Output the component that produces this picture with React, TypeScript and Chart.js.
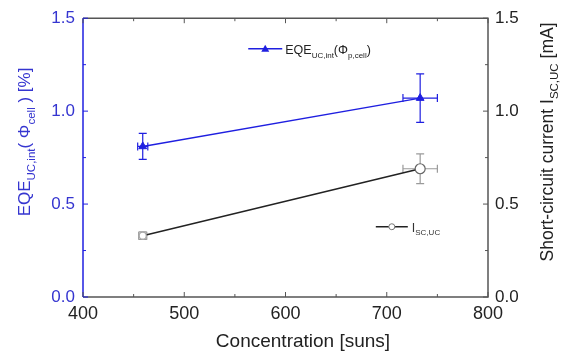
import React, { useEffect, useRef } from 'react';
import { Chart, registerables } from 'chart.js';
Chart.register(...registerables);

// ---- data ----
const concentration = [459, 733];
const eqeXErr = [5, 17];
const eqeValues = [0.81, 1.07];
const eqeYErr = [0.07, 0.13];
const iscValues = [0.33, 0.69];
const iscYErr = [0.02, 0.08];
const iscXErr = [4, 17];
const xMin = 400;
const xMax = 800;
const xStep = 100;
const yMin = 0;
const yMax = 1.5;
const yStep = 0.5;

const BLUE = '#1f1fe0';
const BLUE_TXT = '#3535d0';
const FRAME = '#555555';
const FONT = '"Liberation Sans", Arial, sans-serif';

type Part = { t: string; sub?: boolean };

function richWidth(ctx: CanvasRenderingContext2D, parts: Part[], size: number, subSize: number) {
  let w = 0;
  for (const p of parts) {
    ctx.font = `${p.sub ? subSize : size}px ${FONT}`;
    w += ctx.measureText(p.t).width;
  }
  return w;
}

function drawRich(ctx: CanvasRenderingContext2D, parts: Part[], x: number, y: number, size: number, subSize: number, color: string) {
  let cx = x;
  ctx.fillStyle = color;
  ctx.textBaseline = 'alphabetic';
  ctx.textAlign = 'left';
  for (const p of parts) {
    ctx.font = `${p.sub ? subSize : size}px ${FONT}`;
    ctx.fillText(p.t, cx, p.sub ? y + size * 0.3 : y);
    cx += ctx.measureText(p.t).width;
  }
}

const decorPlugin = {
  id: 'decor',
  beforeDatasetsDraw(chart: any) {
    const ctx: CanvasRenderingContext2D = chart.ctx;
    const xs = chart.scales.x;
    const sets = [
      { scale: chart.scales.y, ys: eqeValues, yErr: eqeYErr, xErr: eqeXErr, color: BLUE },
      { scale: chart.scales.y2, ys: iscValues, yErr: iscYErr, xErr: iscXErr, color: '#9a9a9a' },
    ];
    ctx.save();
    ctx.lineWidth = 1.2;
    for (const s of sets) {
      ctx.strokeStyle = s.color;
      for (let i = 0; i < concentration.length; i++) {
        const px = xs.getPixelForValue(concentration[i]);
        const py = s.scale.getPixelForValue(s.ys[i]);
        const yt = s.scale.getPixelForValue(s.ys[i] + s.yErr[i]);
        const yb = s.scale.getPixelForValue(s.ys[i] - s.yErr[i]);
        const xl = xs.getPixelForValue(concentration[i] - s.xErr[i]);
        const xr = xs.getPixelForValue(concentration[i] + s.xErr[i]);
        const cap = 4;
        ctx.beginPath();
        ctx.moveTo(px, yt); ctx.lineTo(px, yb);
        ctx.moveTo(px - cap, yt); ctx.lineTo(px + cap, yt);
        ctx.moveTo(px - cap, yb); ctx.lineTo(px + cap, yb);
        ctx.moveTo(xl, py); ctx.lineTo(xr, py);
        ctx.moveTo(xl, py - cap); ctx.lineTo(xl, py + cap);
        ctx.moveTo(xr, py - cap); ctx.lineTo(xr, py + cap);
        ctx.stroke();
      }
    }
    ctx.restore();
  },
  afterDatasetsDraw(chart: any) {
    const ctx: CanvasRenderingContext2D = chart.ctx;
    const { left, right, top, bottom } = chart.chartArea;
    const xs = chart.scales.x;
    const ys = chart.scales.y;
    ctx.save();
    // frame
    ctx.lineWidth = 1.5;
    ctx.strokeStyle = FRAME;
    ctx.beginPath();
    ctx.moveTo(left, top); ctx.lineTo(right, top); ctx.lineTo(right, bottom); ctx.lineTo(left, bottom);
    ctx.stroke();
    ctx.strokeStyle = BLUE;
    ctx.beginPath();
    ctx.moveTo(left, top); ctx.lineTo(left, bottom);
    ctx.stroke();
    // tick marks (inward), major + minor
    ctx.lineWidth = 1;
    for (let v = xMin; v <= xMax + 1e-9; v += xStep / 2) {
      const p = xs.getPixelForValue(v);
      const major = Math.abs((v - xMin) % xStep) < 1e-6;
      const len = major ? 5 : 3;
      ctx.strokeStyle = FRAME;
      ctx.beginPath();
      ctx.moveTo(p, bottom); ctx.lineTo(p, bottom - len);
      ctx.moveTo(p, top); ctx.lineTo(p, top + len);
      ctx.stroke();
    }
    for (let v = yMin; v <= yMax + 1e-9; v += yStep / 2) {
      const p = ys.getPixelForValue(v);
      const major = Math.abs(((v - yMin) / yStep) - Math.round((v - yMin) / yStep)) < 1e-6;
      const len = major ? 5 : 3;
      ctx.strokeStyle = BLUE;
      ctx.beginPath();
      ctx.moveTo(left, p); ctx.lineTo(left + len, p);
      ctx.stroke();
      ctx.strokeStyle = FRAME;
      ctx.beginPath();
      ctx.moveTo(right, p); ctx.lineTo(right - len, p);
      ctx.stroke();
    }

    // legends
    ctx.lineWidth = 1.5;
    const lgY1 = top + (bottom - top) * 0.11;
    const lx1 = left + (right - left) * 0.408;
    ctx.strokeStyle = BLUE;
    ctx.beginPath(); ctx.moveTo(lx1, lgY1); ctx.lineTo(lx1 + 34, lgY1); ctx.stroke();
    ctx.fillStyle = BLUE;
    ctx.beginPath();
    ctx.moveTo(lx1 + 17, lgY1 - 4); ctx.lineTo(lx1 + 21, lgY1 + 3); ctx.lineTo(lx1 + 13, lgY1 + 3); ctx.closePath();
    ctx.fill();
    drawRich(ctx, [
      { t: 'EQE' }, { t: 'UC,int', sub: true }, { t: '(Φ' }, { t: 'p,cell', sub: true }, { t: ')' },
    ], lx1 + 37, lgY1 + 5, 12.5, 8, '#222');

    const lgY2 = top + (bottom - top) * 0.748;
    const lx2 = left + (right - left) * 0.723;
    ctx.strokeStyle = '#222';
    ctx.lineWidth = 1.5;
    ctx.beginPath(); ctx.moveTo(lx2, lgY2); ctx.lineTo(lx2 + 32, lgY2); ctx.stroke();
    ctx.fillStyle = '#fff';
    ctx.strokeStyle = '#777';
    ctx.lineWidth = 1;
    ctx.beginPath(); ctx.arc(lx2 + 16, lgY2, 3, 0, Math.PI * 2); ctx.fill(); ctx.stroke();
    drawRich(ctx, [{ t: 'I' }, { t: 'SC,UC', sub: true }], lx2 + 36, lgY2 + 5, 12.5, 8, '#333');

    // axis titles
    ctx.font = `19px ${FONT}`;
    ctx.fillStyle = '#222';
    ctx.textAlign = 'center';
    ctx.textBaseline = 'alphabetic';
    ctx.fillText('Concentration [suns]', 303, 347);

    const leftParts: Part[] = [
      { t: 'EQE' }, { t: 'UC,int', sub: true }, { t: '( Φ' }, { t: 'cell', sub: true }, { t: ' ) [%]' },
    ];
    const lw = richWidth(ctx, leftParts, 17, 11.5);
    ctx.save();
    ctx.translate(30, 142);
    ctx.rotate(-Math.PI / 2);
    drawRich(ctx, leftParts, -lw / 2, 0, 17, 11.5, BLUE_TXT);
    ctx.restore();

    const rightParts: Part[] = [
      { t: 'Short-circuit current I' }, { t: 'SC,UC', sub: true }, { t: ' [mA]' },
    ];
    const rw = richWidth(ctx, rightParts, 17.5, 11.5);
    ctx.save();
    ctx.translate(553, 142);
    ctx.rotate(-Math.PI / 2);
    drawRich(ctx, rightParts, -rw / 2, 0, 17.5, 11.5, '#222');
    ctx.restore();

    ctx.restore();
  },
};

export default function App() {
  const ref = useRef<HTMLCanvasElement | null>(null);
  useEffect(() => {
    if (!ref.current) return;
    const chart = new Chart(ref.current, {
      type: 'line',
      data: {
        datasets: [
          {
            label: 'EQE',
            data: concentration.map((x, i) => ({ x, y: eqeValues[i] })),
            yAxisID: 'y',
            borderColor: BLUE,
            backgroundColor: BLUE,
            borderWidth: 1.5,
            pointStyle: 'triangle',
            pointRadius: 4.5,
            pointBorderWidth: 1,
            pointBackgroundColor: BLUE,
            pointBorderColor: BLUE,
          },
          {
            label: 'Isc',
            data: concentration.map((x, i) => ({ x, y: iscValues[i] })),
            yAxisID: 'y2',
            borderColor: '#222',
            backgroundColor: '#fff',
            borderWidth: 1.5,
            pointStyle: 'circle',
            pointRadius: [3.5, 5],
            pointBorderWidth: 1.2,
            pointBackgroundColor: '#fff',
            pointBorderColor: ['#aaaaaa', '#666666'],
          },
        ],
      },
      options: {
        animation: false,
        responsive: false,
        maintainAspectRatio: false,
        layout: { padding: { top: 15, left: 0, right: 0, bottom: 0 } },
        plugins: { legend: { display: false }, tooltip: { enabled: false } },
        scales: {
          x: {
            type: 'linear',
            min: xMin,
            max: xMax,
            grid: { display: false, drawTicks: false },
            border: { display: false },
            ticks: { stepSize: xStep, padding: 6, color: '#222', font: { size: 18, family: FONT } },
            afterFit: (s: any) => { s.height = 55; },
          },
          y: {
            position: 'left',
            min: yMin,
            max: yMax,
            grid: { display: false, drawTicks: false },
            border: { display: false },
            ticks: {
              stepSize: yStep,
              padding: 8,
              color: BLUE_TXT,
              font: { size: 17, family: FONT },
              callback: (v: any) => Number(v).toFixed(1),
            },
            afterFit: (s: any) => { s.width = 83; },
          },
          y2: {
            position: 'right',
            min: yMin,
            max: yMax,
            grid: { display: false, drawTicks: false },
            border: { display: false },
            ticks: {
              stepSize: yStep,
              padding: 7,
              color: '#222',
              font: { size: 17, family: FONT },
              callback: (v: any) => Number(v).toFixed(1),
            },
            afterFit: (s: any) => { s.width = 80; },
          },
        },
      },
      plugins: [decorPlugin],
    } as any);
    return () => chart.destroy();
  }, []);
  return (
    <div style={{ position: 'absolute', left: 0, top: 0, width: 568, height: 352, background: '#fff' }}>
      <canvas ref={ref} width={568} height={352} style={{ width: 568, height: 352, display: 'block' }} />
    </div>
  );
}
